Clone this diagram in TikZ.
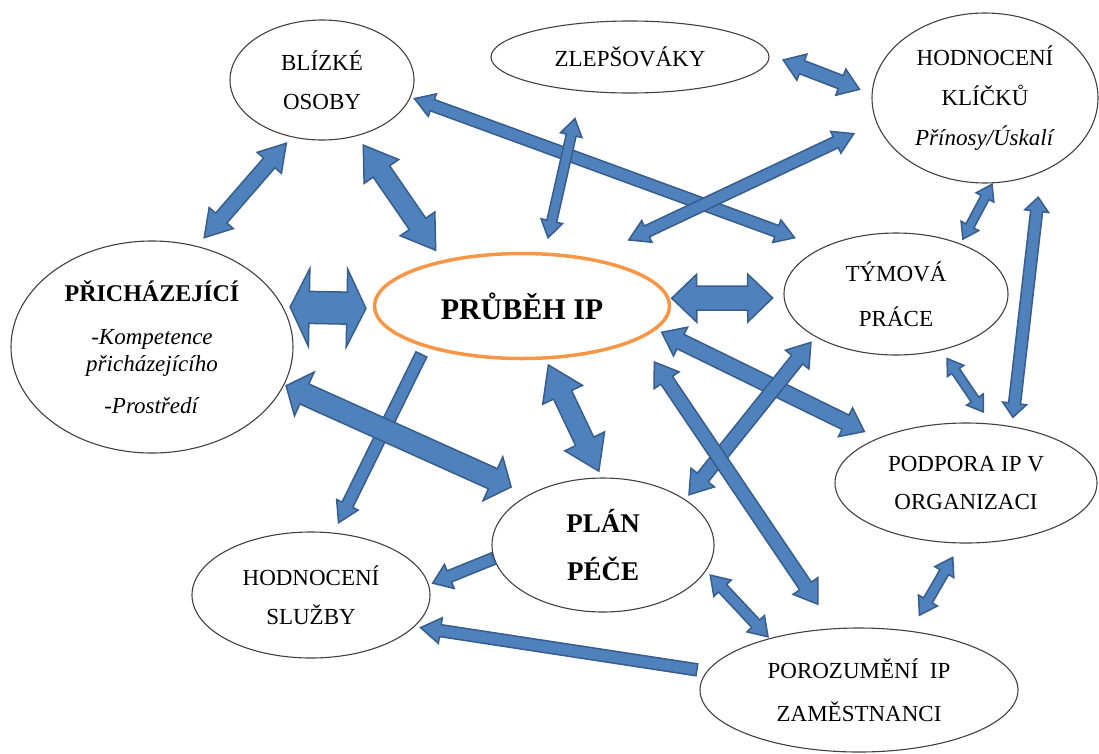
\documentclass[tikz,border=0pt]{standalone}
\usepackage{fontspec}
\setmainfont{Liberation Serif}
\usepackage{tikz}
\usetikzlibrary{shapes.geometric}
\usetikzlibrary{calc}

\begin{document}
\begin{tikzpicture}[x=1pt,y=-1pt,line cap=rect,
		bubble/.style={ellipse, draw=custcol_40_40_40, line width=1.1pt, inner sep=0pt, align=center, font=\fontsize{23}{39}\selectfont},
		blockarrow/.style={fill=custcol_4f_81_bd, draw=custcol_38_5d_8a, line width=1.5pt, line join=miter}]
				\definecolor{custcol_4f_81_bd}{RGB}{79, 129, 189}
				\definecolor{custcol_38_5d_8a}{RGB}{56, 93, 138}
				\definecolor{custcol_f7_96_46}{RGB}{247, 150, 70}
				\definecolor{custcol_40_40_40}{RGB}{64, 64, 64}
				% block arrows: from, to, gap at from, gap at to, shaft half, head half, head length
				\def\duoarrow#1#2#3#4#5#6#7{%
					\coordinate (aa) at ($(#1)!#3pt!(#2)$);
					\coordinate (bb) at ($(#2)!#4pt!(#1)$);
					\coordinate (p1) at ($(aa)!#7pt!(bb)$);
					\coordinate (p2) at ($(bb)!#7pt!(aa)$);
					\filldraw [blockarrow] (aa) -- ($(p1)!#6pt!90:(bb)$) -- ($(p1)!#5pt!90:(bb)$) -- ($(p2)!#5pt!270:(aa)$) -- ($(p2)!#6pt!270:(aa)$) -- (bb) -- ($(p2)!#6pt!90:(aa)$) -- ($(p2)!#5pt!90:(aa)$) -- ($(p1)!#5pt!270:(bb)$) -- ($(p1)!#6pt!270:(bb)$) -- cycle;}
				\def\uniarrow#1#2#3#4#5#6#7{%
					\coordinate (aa) at ($(#1)!#3pt!(#2)$);
					\coordinate (bb) at ($(#2)!#4pt!(#1)$);
					\coordinate (p2) at ($(bb)!#7pt!(aa)$);
					\filldraw [blockarrow] ($(aa)!#5pt!90:(bb)$) -- ($(p2)!#5pt!270:(aa)$) -- ($(p2)!#6pt!270:(aa)$) -- (bb) -- ($(p2)!#6pt!90:(aa)$) -- ($(p2)!#5pt!90:(aa)$) -- ($(aa)!#5pt!270:(bb)$) -- cycle;}
				\useasboundingbox (0,0) rectangle (1099,753);
				\node [bubble, minimum width=184, minimum height=120] (bliz) at (322,80) {BLÍZKÉ\\OSOBY};
				\node [bubble, minimum width=278, minimum height=72] (zlep) at (630,57) {ZLEPŠOVÁKY};
				\node [bubble, minimum width=226, minimum height=170, font=\fontsize{23}{40}\selectfont] (klic) at (985,98) {HODNOCENÍ\\KLÍČKŮ\\\textit{Přínosy/Úskalí}};
				\node [bubble, minimum width=282, minimum height=212, font=\fontsize{23}{27}\selectfont] (prich) at (152,347) {{\bfseries\fontsize{24}{27}\selectfont PŘICHÁZEJÍCÍ}\\[16pt]\textit{-Kompetence}\\\textit{přicházejícího}\\[15pt]\textit{-Prostředí}};
				\node [bubble, draw=custcol_f7_96_46, line width=3.5pt, minimum width=295, minimum height=105, font=\bfseries\fontsize{30}{36}\selectfont] (prub) at (522,306) {PRŮBĚH IP};
				\node [bubble, minimum width=224, minimum height=122, font=\fontsize{23}{45}\selectfont] (tym) at (896,294) {TÝMOVÁ\\PRÁCE};
				\node [bubble, minimum width=262, minimum height=120, font=\fontsize{23}{38}\selectfont] (podp) at (966,483) {PODPORA IP V\\ORGANIZACI};
				\node [bubble, minimum width=222, minimum height=134, font=\bfseries\fontsize{27}{48}\selectfont] (plan) at (603,545) {PLÁN\\PÉČE};
				\node [bubble, minimum width=238, minimum height=126] (sluz) at (311,595) {HODNOCENÍ\\SLUŽBY};
				\node [bubble, minimum width=318, minimum height=124, font=\fontsize{23}{43}\selectfont] (poroz) at (859,690) {POROZUMĚNÍ\ \ IP\\ZAMĚSTNANCI};
				\duoarrow{bliz.242}{prich.66}{8}{11}{7.5}{16}{26}
				\duoarrow{bliz.302}{prub.150}{11}{12}{10}{21}{32}
				\duoarrow{prich.17}{prub.181}{7}{7}{16}{39}{19}
				\duoarrow{prub.3}{tym.182}{2}{11}{12}{24}{25}
				\duoarrow{bliz.349}{tym.148}{4}{29}{6}{12}{19}
				\duoarrow{zlep.215}{prub.67}{28}{15}{5}{11}{17}
				\duoarrow{zlep.1}{klic.178}{15}{13}{7}{14}{20}
				\duoarrow{klic.193}{prub.35}{25}{42}{6}{12}{20}
				\duoarrow{klic.275}{tym.38}{1}{5}{4.5}{10}{15}
				\duoarrow{klic.307}{podp.51}{25}{9}{6}{12}{14}
				\duoarrow{tym.309}{podp.67}{10}{14}{4.5}{10}{15}
				\uniarrow{prub.203}{sluz.70}{8}{11}{6}{12}{20}
				\duoarrow{prich.344}{plan.146}{2}{19}{11}{24}{20}
				\uniarrow{plan.187}{sluz.5}{0}{4}{6}{13}{18}
				\uniarrow{poroz.173}{sluz.343}{10}{6}{6}{13}{20}
				\duoarrow{prub.294}{plan.91}{6}{7}{10}{22}{33}
				\duoarrow{prub.350}{podp.153}{6}{15}{8}{16}{21}
				\duoarrow{tym.208}{plan.29}{7}{6}{7}{15}{22}
				\duoarrow{prub.344}{poroz.112}{27}{29}{7}{15}{22}
				\duoarrow{plan.346}{poroz.150}{6}{2}{5.5}{12}{18}
				\duoarrow{podp.265}{poroz.49}{16}{18}{5}{11}{17}
			\end{tikzpicture}
\end{document}
